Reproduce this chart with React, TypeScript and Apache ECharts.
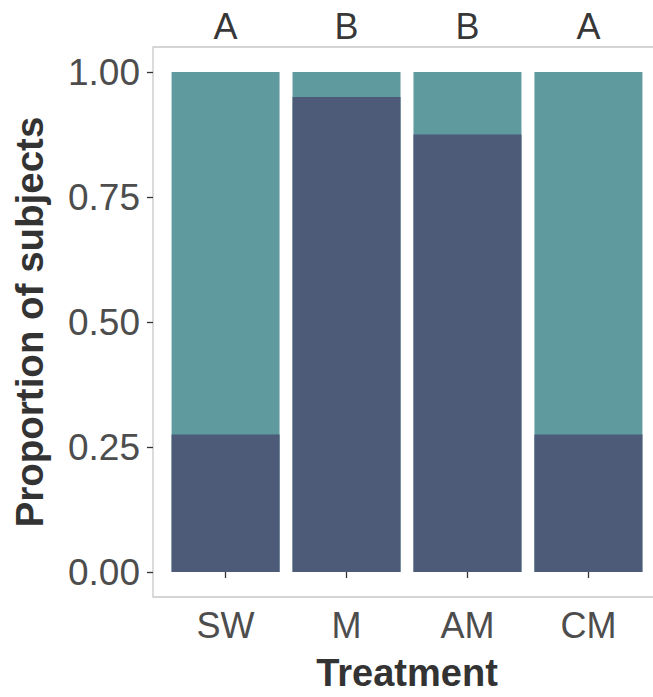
import React, { useEffect, useRef } from "react";
import * as echarts from "echarts";

const categories = ["SW", "M", "AM", "CM"];
const lowerProportion = [0.275, 0.95, 0.875, 0.275];
const upperProportion = [0.725, 0.05, 0.125, 0.725];
const groupLetters = ["A", "B", "B", "A"];
const yTicks = [0, 0.25, 0.5, 0.75, 1];
const xPositions = [1, 2, 3, 4];

const FONT = "Liberation Sans, Arial, sans-serif";

export default function App() {
  const ref = useRef<HTMLDivElement>(null);
  useEffect(() => {
    if (!ref.current) return;
    const chart = echarts.init(ref.current, undefined, { renderer: "svg" });
    chart.setOption({
      animation: false,
      backgroundColor: "#ffffff",
      grid: {
        left: 153,
        top: 47,
        right: -8,
        bottom: 100,
        outerBoundsMode: "none",
        containLabel: false,
        show: true,
        borderColor: "#C8C8C8",
        borderWidth: 1.3,
        backgroundColor: "#ffffff",
      },
      xAxis: {
        type: "value",
        min: 0.4,
        max: 4.6,
        name: "Treatment",
        nameLocation: "middle",
        nameGap: 57,
        nameTextStyle: { fontFamily: FONT, fontSize: 38, fontWeight: "bold", color: "#333333" },
        axisLine: { show: false },
        splitLine: { show: false },
        axisTick: { show: true, customValues: xPositions, length: 6, lineStyle: { color: "#333333", width: 1.3 } },
        axisLabel: {
          customValues: xPositions,
          formatter: (v: number) => categories[Math.round(v) - 1] ?? "",
          fontFamily: FONT,
          fontSize: 36,
          color: "#4D4D4D",
          margin: 10,
        },
      },
      yAxis: {
        type: "value",
        min: -0.05,
        max: 1.05,
        name: "Proportion of subjects",
        nameLocation: "middle",
        nameRotate: 90,
        nameGap: 104,
        nameTextStyle: { fontFamily: FONT, fontSize: 38.5, fontWeight: "bold", color: "#333333" },
        axisLine: { show: false },
        splitLine: { show: false },
        axisTick: { show: true, customValues: yTicks, length: 6, lineStyle: { color: "#333333", width: 1.3 } },
        axisLabel: {
          customValues: yTicks,
          formatter: (v: number) => v.toFixed(2),
          fontFamily: FONT,
          fontSize: 37,
          color: "#4D4D4D",
          margin: 13,
        },
      },
      series: [
        {
          type: "bar",
          name: "total (upper part visible)",
          barWidth: 108,
          barGap: "-100%",
          data: xPositions.map((x, i) => [x, lowerProportion[i] + upperProportion[i]]),
          itemStyle: { color: "#5F9B9E" },
        },
        {
          type: "bar",
          name: "lower",
          barWidth: 108,
          barGap: "-100%",
          data: xPositions.map((x, i) => [x, lowerProportion[i]]),
          itemStyle: { color: "#4D5B78" },
        },
        {
          type: "scatter",
          name: "letters",
          symbolSize: 0,
          data: xPositions.map((x) => [x, 1.05]),
          label: {
            show: true,
            position: "top",
            distance: 3,
            formatter: (p: any) => groupLetters[p.dataIndex],
            fontFamily: FONT,
            fontSize: 36,
            color: "#000000",
          },
        },
      ],
    });
    return () => chart.dispose();
  }, []);
  return (
    <div
      ref={ref}
      style={{ position: "absolute", left: 0, top: 0, width: 653, height: 697 }}
    />
  );
}
